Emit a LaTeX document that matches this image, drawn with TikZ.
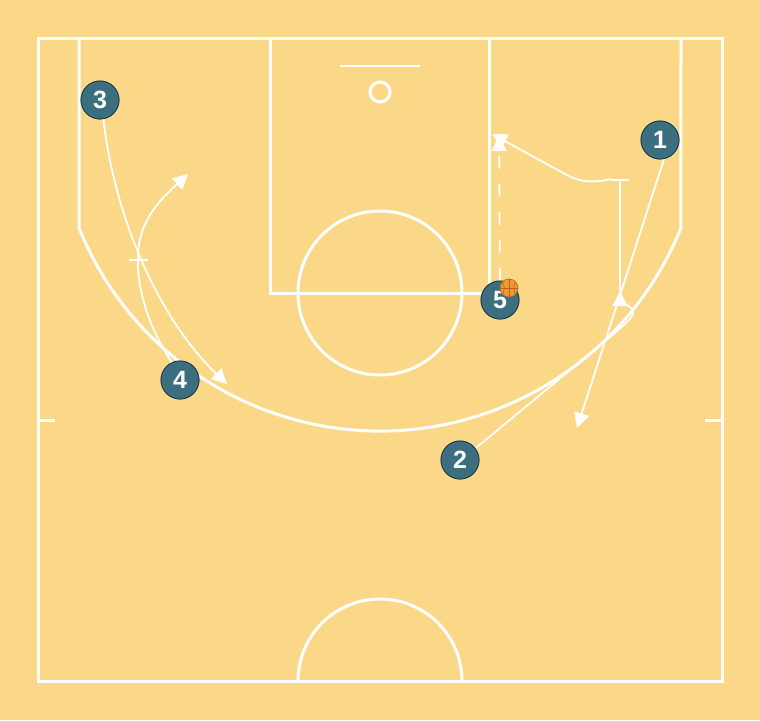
\documentclass[tikz,border=0pt]{standalone}
\usepackage{fontspec}
\setsansfont{Liberation Sans}
\usetikzlibrary{arrows.meta}
\definecolor{court}{HTML}{FAD888}
\definecolor{pfill}{HTML}{3B6F80}
\definecolor{pdraw}{HTML}{1E3C48}
\definecolor{ballc}{HTML}{F29A32}
\definecolor{balls}{HTML}{B8621A}
\tikzset{
  courtline/.style={draw=white,line width=3pt},
  move/.style={draw=white,line width=1.8pt,-{Triangle[length=15pt,width=15pt]}},
  plain/.style={draw=white,line width=1.8pt},
  pass/.style={draw=white,line width=1.8pt,dash pattern=on 13pt off 15pt,-{Triangle[length=15pt,width=15pt]}},
  player/.style={circle,fill=pfill,draw=pdraw,line width=0.8pt,minimum size=38pt,inner sep=0pt,
    text=white,font=\sffamily\bfseries\fontsize{25}{25}\selectfont},
}
\begin{document}
\begin{tikzpicture}[x=1pt,y=-1pt]
\fill[court] (0,0) rectangle (760,720);
\useasboundingbox (0,0) rectangle (760,720);
% court
\draw[courtline] (38,38) rectangle (722,681);
\begin{scope}
\clip (0,0) rectangle (760,681);
\draw[courtline] (380,681) circle[radius=82];
\end{scope}
\draw[courtline] (270,38) rectangle (489,293);
\draw[courtline] (380,293) circle[radius=82];
\draw[draw=white,line width=2pt] (340,66) -- (420,66);
\draw[courtline] (380,92) circle[radius=10];
\draw[courtline] (38,420) -- (55,420);
\draw[courtline] (705,420) -- (722,420);
\draw[courtline] (79,38) -- (79,228) arc[start angle=158, end angle=22, radius=324.6] -- (681,38);
% players
\node[player] (p1) at (660,140) {1};
\node[player] (p2) at (460,460) {2};
\node[player] (p3) at (100,100) {3};
\node[player] (p4) at (180,380) {4};
\node[player] (p5) at (500,300) {5};
% coordinates
\coordinate (a3) at (227,384);
\coordinate (s4) at (138,260);
\coordinate (a4) at (188,174);
\coordinate (a1) at (577,428);
\coordinate (a2) at (620,291);
\coordinate (s2) at (620,180);
\coordinate (ac) at (492,134);
\coordinate (ap) at (499,136);
% movements
\draw[move] (p3.-80) .. controls (115,220) and (160,320) .. (a3);
\draw[plain] (p4.115) .. controls (150,330) and (137,290) .. (s4);
\draw[plain] ([xshift=-9pt]s4) -- ([xshift=10pt]s4);
\draw[move] (s4) .. controls (137,222) and (160,200) .. (a4);
\draw[move] (p1.-78) -- (a1);
\draw[move] (p2.37) -- (610,337) .. controls (631,319) and (637,314) .. (631,308)
  .. controls (625,303) and (620,303) .. (a2);
\draw[plain] (a2) -- (s2);
\draw[plain] ([xshift=-9pt]s2) -- ([xshift=9pt]s2);
\draw[move] ([xshift=-9pt,yshift=1pt]s2) .. controls (597,182) and (583,184) .. (565,174) -- (ac);
\draw[pass] (p5.north) -- (ap);
% redraw players on top
\node[player] at (p1) {1};
\node[player] at (p2) {2};
\node[player] at (p3) {3};
\node[player] at (p4) {4};
\node[player] at (p5) {5};
% ball
\node[circle,fill=ballc,draw=balls,line width=0.6pt,minimum size=18pt,inner sep=0pt] (ball) at (509,288) {};
\draw[balls,line width=0.6pt] (ball.west) -- (ball.east);
\draw[balls,line width=0.6pt] (ball.north) -- (ball.south);
\draw[balls,line width=0.6pt] (ball.north west) .. controls (505,288) .. (ball.south west);
\draw[balls,line width=0.6pt] (ball.north east) .. controls (513,288) .. (ball.south east);
\end{tikzpicture}
\end{document}
